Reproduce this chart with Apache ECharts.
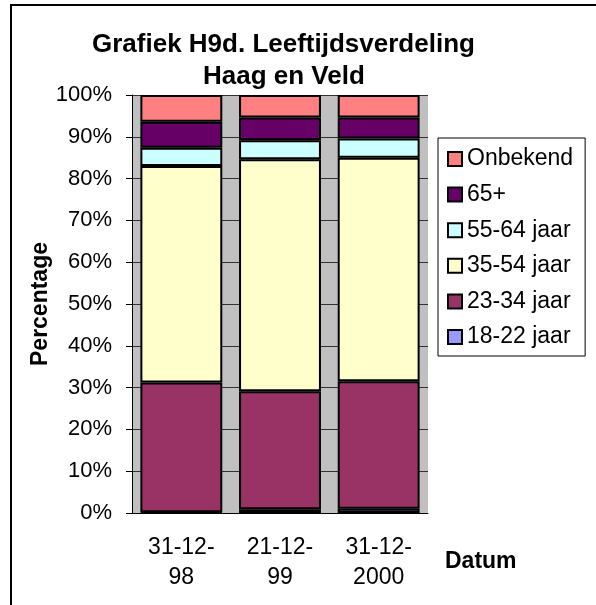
<!DOCTYPE html>
<html>
<head>
<meta charset="utf-8">
<title>Grafiek H9d</title>
<script src="https://cdn.jsdelivr.net/npm/echarts@6/dist/echarts.min.js"></script>
<style>
  html, body { margin: 0; padding: 0; background: #fff; }
  #mains { width: 596px; height: 605px; }
</style>
</head>
<body>
<div id="mains"></div>
<script>
// categorieen (datum) en percentages per leeftijdsgroep
var categories = ['31-12-\n98', '21-12-\n99', '31-12-\n2000'];
var yTicks = [0, 10, 20, 30, 40, 50, 60, 70, 80, 90, 100];

var jaar18_22 = [0.2, 0.9, 1.0];
var jaar23_34 = [31.0, 28.2, 30.5];
var jaar35_54 = [51.8, 55.5, 53.5];
var jaar55_64 = [4.4, 4.6, 4.6];
var jaar65plus = [6.2, 5.4, 5.0];
var onbekend = [6.4, 5.4, 5.4];

var groups = [
    { name: '18-22 jaar', data: jaar18_22, color: '#9999FF' },
    { name: '23-34 jaar', data: jaar23_34, color: '#993366' },
    { name: '35-54 jaar', data: jaar35_54, color: '#FFFFCC' },
    { name: '55-64 jaar', data: jaar55_64, color: '#CCFFFF' },
    { name: '65+', data: jaar65plus, color: '#660066' },
    { name: 'Onbekend', data: onbekend, color: '#FF8080' }
];

var font = 'Arial, "Liberation Sans", sans-serif';
var titleStyle = {
    fontFamily: font,
    fontSize: 26,
    fontWeight: 'bold',
    lineHeight: 32,
    color: '#000'
};

var myChart = echarts.init(document.getElementById('mains'), null, { renderer: 'canvas' });

myChart.setOption({
    animation: false,
    backgroundColor: '#fff',
    title: [
        { text: 'Grafiek H9d. Leeftijdsverdeling', left: 92, top: 29, padding: 0, textStyle: titleStyle },
        { text: 'Haag en Veld', left: 203, top: 61, padding: 0, textStyle: titleStyle }
    ],
    graphic: [{
        type: 'polyline',
        shape: { points: [[11, 605], [11, 5], [596, 5]] },
        style: { stroke: '#000', lineWidth: 2, fill: null }
    }, {
        type: 'text',
        left: 445,
        top: 550,
        style: {
            text: 'Datum',
            fill: '#000',
            font: 'bold 23px ' + font
        }
    }],
    legend: {
        orient: 'vertical',
        left: 438,
        top: 138,
        padding: [9, 12, 7, 9],
        itemGap: 11.6,
        itemWidth: 14,
        itemHeight: 14,
        borderColor: '#000',
        borderWidth: 1,
        icon: 'rect',
        itemStyle: { borderColor: '#000', borderWidth: 2 },
        textStyle: { fontFamily: font, fontSize: 23, lineHeight: 24, color: '#000' },
        data: groups.map(function (g) { return g.name; }).reverse()
    },
    grid: {
        left: 132,
        right: 168,
        top: 95,
        bottom: 92,
        show: true,
        backgroundColor: '#C0C0C0',
        borderWidth: 0
    },
    xAxis: {
        type: 'category',
        data: categories,
        axisLine: { lineStyle: { color: '#000', width: 1 } },
        axisTick: { length: 7, lineStyle: { color: '#000' } },
        axisLabel: {
            fontFamily: font,
            fontSize: 23,
            lineHeight: 30,
            color: '#000',
            margin: 20
        }
    },
    yAxis: {
        type: 'value',
        min: yTicks[0],
        max: yTicks[yTicks.length - 1],
        interval: 10,
        name: 'Percentage',
        nameLocation: 'middle',
        nameGap: 73,
        nameTextStyle: {
            fontFamily: font,
            fontSize: 23,
            fontWeight: 'bold',
            color: '#000'
        },
        axisLine: { show: true, lineStyle: { color: '#000', width: 1 } },
        axisTick: { show: true, length: 6, lineStyle: { color: '#000' } },
        axisLabel: {
            fontFamily: font,
            fontSize: 22,
            color: '#000',
            margin: 20,
            formatter: '{value}%'
        },
        splitLine: { show: true, lineStyle: { color: '#333', width: 1 } }
    },
    series: groups.map(function (g) {
        return {
            name: g.name,
            type: 'bar',
            stack: 'totaal',
            barWidth: '83%',
            data: g.data,
            itemStyle: { color: g.color, borderColor: '#000', borderWidth: 2 }
        };
    })
});
</script>
</body>
</html>
